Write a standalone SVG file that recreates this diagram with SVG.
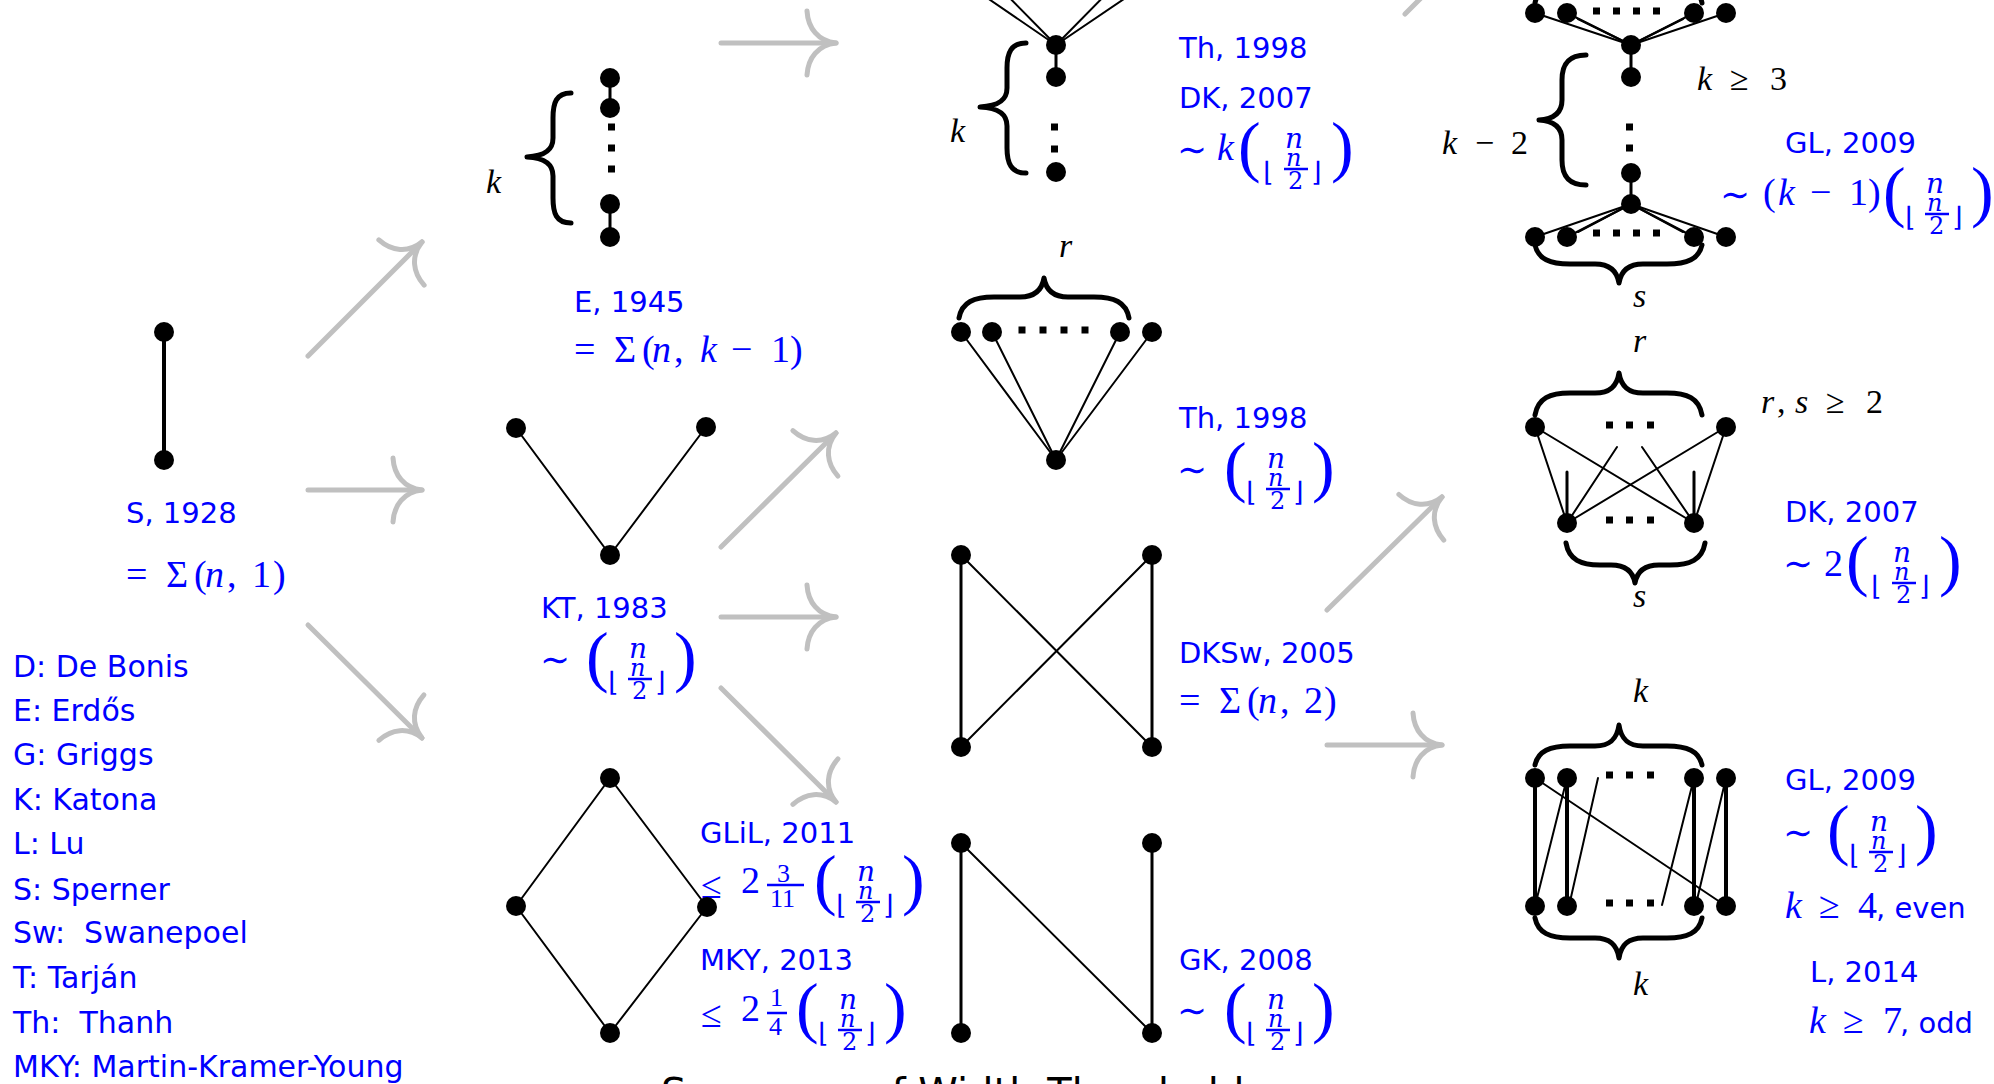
<svg xmlns="http://www.w3.org/2000/svg" width="1994" height="1084" viewBox="0 0 1994 1084">
<style>
.ed{stroke:#000;stroke-width:2;fill:none;stroke-linecap:round}
.ek{stroke:#000;stroke-width:3;fill:none;stroke-linecap:round}
.ew{stroke:#000;stroke-width:4;fill:none}
.nd{fill:#000}
.dt{fill:#000}
.br{stroke:#000;stroke-width:5;fill:none;stroke-linecap:round;stroke-linejoin:round}
.vb{stroke:#000;stroke-width:5;fill:none;stroke-linecap:round;stroke-linejoin:round}
.ar{stroke:#c0c0c0;stroke-width:5;fill:none;stroke-linecap:round;marker-end:url(#ah)}
.tx{font-family:"DejaVu Sans",sans-serif;font-size:29px;fill:#00f}
.lg{font-family:"DejaVu Sans",sans-serif;font-size:30px;fill:#00f;white-space:pre}
.mb{font-family:"Liberation Serif","DejaVu Serif",serif;font-size:38px;fill:#00f}
.mk{font-family:"Liberation Serif","DejaVu Serif",serif;font-size:34px;fill:#000}
.it{font-style:italic}
.sim{font-family:"DejaVu Serif",serif;font-size:36px;fill:#00f}
.bp{font-family:"Liberation Serif","DejaVu Serif",serif;font-size:68px;fill:#00f}
.bn{font-family:"DejaVu Serif",serif;fill:#00f}
.bt{font-size:28px}
.bs{font-size:24px}
.sf{font-size:26px}
.fl{font-family:"DejaVu Sans",sans-serif;font-size:27px;fill:#00f}
.fb{stroke:#00f;stroke-width:2.5}
.ttl{font-family:"DejaVu Sans",sans-serif;font-size:40px;fill:#000}
</style>
<defs>
<marker id="ah" markerUnits="userSpaceOnUse" markerWidth="80" markerHeight="80" viewBox="-40 -40 80 80" refX="0" refY="0" orient="auto" overflow="visible">
<path d="M -29 -32 C -28 -15, -18 -2, 0 0 M -29 32 C -28 15, -18 2, 0 0" fill="none" stroke="#c0c0c0" stroke-width="5" stroke-linecap="round"/>
</marker>
</defs>
<rect width="1994" height="1084" fill="#fff"/>

<g id="connectors">
<line class="ar" x1="308" y1="356" x2="422" y2="242"/>
<line class="ar" x1="308" y1="490" x2="422" y2="490"/>
<line class="ar" x1="308" y1="625" x2="422" y2="738"/>
<line class="ar" x1="721" y1="43" x2="836" y2="43"/>
<line class="ar" x1="721" y1="547" x2="836" y2="433"/>
<line class="ar" x1="721" y1="617" x2="836" y2="617"/>
<line class="ar" x1="721" y1="688" x2="836" y2="802"/>
<line class="ar" x1="1327" y1="610" x2="1442" y2="497"/>
<line class="ar" x1="1327" y1="745" x2="1442" y2="745"/>
<line class="ar" x1="1405" y1="14" x2="1519" y2="-100"/>
</g>

<g id="node-s1928">
<line class="ew" x1="164" y1="332" x2="164" y2="460"/>
<circle class="nd" cx="164" cy="332" r="10"/>
<circle class="nd" cx="164" cy="460" r="10"/>
<text class="tx" x="126" y="523">S, 1928</text>
<text class="mb" y="587"><tspan x="126">=</tspan><tspan x="166">Σ</tspan><tspan x="194">(</tspan><tspan x="205" class="it">n</tspan><tspan x="227">,</tspan><tspan x="252">1</tspan><tspan x="273">)</tspan></text>
</g>

<g id="node-e1945">
<path class="vb" d="M 571 93 C 556 93, 553 103, 553 118 L 553 138 C 553 150, 545 156, 527 157 C 545 158, 553 164, 553 176 L 553 198 C 553 213, 556 223, 571 223"/>
<text class="mk it" x="486" y="193">k</text>
<line class="ek" x1="610" y1="78" x2="610" y2="108"/>
<line class="ek" x1="610" y1="204" x2="610" y2="237"/>
<circle class="nd" cx="610" cy="78" r="10"/>
<circle class="nd" cx="610" cy="108" r="10"/>
<circle class="nd" cx="610" cy="204" r="10"/>
<circle class="nd" cx="610" cy="237" r="10"/>
<rect class="dt" x="608" y="123.5" width="7" height="7"/>
<rect class="dt" x="608" y="144.5" width="7" height="7"/>
<rect class="dt" x="608" y="165.5" width="7" height="7"/>
<text class="tx" x="574" y="312">E, 1945</text>
<text class="mb" y="362"><tspan x="574">=</tspan><tspan x="614">Σ</tspan><tspan x="642">(</tspan><tspan x="652" class="it">n</tspan><tspan x="674">,</tspan><tspan x="700" class="it">k</tspan><tspan x="731">−</tspan><tspan x="771">1</tspan><tspan x="790">)</tspan></text>
</g>

<g id="node-kt1983">
<line class="ed" x1="516" y1="428" x2="610" y2="555"/>
<line class="ed" x1="706" y1="427" x2="610" y2="555"/>
<circle class="nd" cx="516" cy="428" r="10"/>
<circle class="nd" cx="706" cy="427" r="10"/>
<circle class="nd" cx="610" cy="555" r="10"/>
<text class="tx" x="541" y="618">KT, 1983</text>
<text class="sim" x="540" y="672">∼</text>
<g transform="translate(589,662)">
<text class="bp" x="-3" y="17">(</text>
<text class="fl" x="19" y="29">⌊</text>
<text class="bn it bt" x="40" y="-4">n</text>
<text class="bn it bs" x="41" y="14">n</text>
<line class="fb" x1="39" y1="17" x2="63" y2="17"/>
<text class="bn bs" x="43" y="37">2</text>
<text class="fl" x="66" y="29">⌋</text>
<text class="bp" x="85" y="17">)</text>
</g>
</g>

<g id="node-glil2011-mky2013">
<text class="tx" x="700" y="843">GLiL, 2011</text>
<text class="mb" x="701" y="898">≤</text>
<text class="mb" x="741" y="893">2</text>
<text class="mb sf" x="777" y="882">3</text>
<line class="fb" x1="767" y1="885" x2="804" y2="885"/>
<text class="mb sf" x="770" y="907">11</text>
<g transform="translate(817,885)">
<text class="bp" x="-3" y="17">(</text>
<text class="fl" x="19" y="29">⌊</text>
<text class="bn it bt" x="40" y="-4">n</text>
<text class="bn it bs" x="41" y="14">n</text>
<line class="fb" x1="39" y1="17" x2="63" y2="17"/>
<text class="bn bs" x="43" y="37">2</text>
<text class="fl" x="66" y="29">⌋</text>
<text class="bp" x="85" y="17">)</text>
</g>
<text class="tx" x="700" y="970">MKY, 2013</text>
<text class="mb" x="701" y="1027">≤</text>
<text class="mb" x="741" y="1021">2</text>
<text class="mb sf" x="770" y="1006">1</text>
<line class="fb" x1="767" y1="1013" x2="787" y2="1013"/>
<text class="mb sf" x="769" y="1035">4</text>
<g transform="translate(799,1013)">
<text class="bp" x="-3" y="17">(</text>
<text class="fl" x="19" y="29">⌊</text>
<text class="bn it bt" x="40" y="-4">n</text>
<text class="bn it bs" x="41" y="14">n</text>
<line class="fb" x1="39" y1="17" x2="63" y2="17"/>
<text class="bn bs" x="43" y="37">2</text>
<text class="fl" x="66" y="29">⌋</text>
<text class="bp" x="85" y="17">)</text>
</g>
<line class="ed" x1="610" y1="778" x2="516" y2="906"/>
<line class="ed" x1="610" y1="778" x2="707" y2="907"/>
<line class="ed" x1="516" y1="906" x2="610" y2="1033"/>
<line class="ed" x1="707" y1="907" x2="610" y2="1033"/>
<circle class="nd" cx="610" cy="778" r="10"/>
<circle class="nd" cx="516" cy="906" r="10"/>
<circle class="nd" cx="707" cy="907" r="10"/>
<circle class="nd" cx="610" cy="1033" r="10"/>
</g>

<g id="node-th1998-dk2007">
<line class="ed" x1="1056" y1="45" x2="961" y2="-20"/>
<line class="ed" x1="1056" y1="45" x2="992" y2="-20"/>
<line class="ed" x1="1056" y1="45" x2="1120" y2="-20"/>
<line class="ed" x1="1056" y1="45" x2="1152" y2="-20"/>
<circle class="nd" cx="961" cy="-20" r="10"/>
<circle class="nd" cx="992" cy="-20" r="10"/>
<circle class="nd" cx="1120" cy="-20" r="10"/>
<circle class="nd" cx="1152" cy="-20" r="10"/>
<line class="ek" x1="1056" y1="45" x2="1056" y2="77"/>
<circle class="nd" cx="1056" cy="45" r="10"/>
<circle class="nd" cx="1056" cy="77" r="10"/>
<circle class="nd" cx="1056" cy="172" r="10"/>
<rect class="dt" x="1051" y="123.5" width="7" height="7"/>
<rect class="dt" x="1051" y="145.5" width="7" height="7"/>
<path class="vb" d="M 1026 43 C 1011 43, 1007 53, 1007 68 L 1007 88 C 1007 100, 999 106, 980 107 C 999 108, 1007 114, 1007 126 L 1007 148 C 1007 163, 1011 173, 1026 173"/>
<text class="mk it" x="950" y="142">k</text>
<text class="tx" x="1179" y="58">Th, 1998</text>
<text class="tx" x="1179" y="108">DK, 2007</text>
<text class="sim" x="1177" y="162">∼</text>
<text class="mb it" x="1217" y="160">k</text>
<g transform="translate(1241,152)">
<text class="bp" x="-3" y="17">(</text>
<text class="fl" x="22" y="29">⌊</text>
<text class="bn it bt" x="44" y="-4">n</text>
<text class="bn it bs" x="45" y="14">n</text>
<line class="fb" x1="43" y1="17" x2="67" y2="17"/>
<text class="bn bs" x="47" y="37">2</text>
<text class="fl" x="70" y="29">⌋</text>
<text class="bp" x="90" y="17">)</text>
</g>
</g>

<g id="node-th1998">
<text class="mk it" x="1059" y="257">r</text>
<path class="br" d="M 959 318 C 962 302, 974 297, 994 297 L 1020 297 C 1035 297, 1042 290, 1044 278 C 1046 290, 1053 297, 1068 297 L 1094 297 C 1114 297, 1126 302, 1129 318"/>
<line class="ed" x1="961" y1="332" x2="1056" y2="460"/>
<line class="ed" x1="992" y1="332" x2="1056" y2="460"/>
<line class="ed" x1="1120" y1="332" x2="1056" y2="460"/>
<line class="ed" x1="1152" y1="332" x2="1056" y2="460"/>
<circle class="nd" cx="961" cy="332" r="10"/>
<circle class="nd" cx="992" cy="332" r="10"/>
<circle class="nd" cx="1120" cy="332" r="10"/>
<circle class="nd" cx="1152" cy="332" r="10"/>
<circle class="nd" cx="1056" cy="460" r="10"/>
<rect class="dt" x="1018.5" y="326.5" width="7" height="7"/>
<rect class="dt" x="1039.5" y="326.5" width="7" height="7"/>
<rect class="dt" x="1060.5" y="326.5" width="7" height="7"/>
<rect class="dt" x="1081.5" y="326.5" width="7" height="7"/>
<text class="tx" x="1179" y="428">Th, 1998</text>
<text class="sim" x="1177" y="482">∼</text>
<g transform="translate(1227,472)">
<text class="bp" x="-3" y="17">(</text>
<text class="fl" x="19" y="29">⌊</text>
<text class="bn it bt" x="40" y="-4">n</text>
<text class="bn it bs" x="41" y="14">n</text>
<line class="fb" x1="39" y1="17" x2="63" y2="17"/>
<text class="bn bs" x="43" y="37">2</text>
<text class="fl" x="66" y="29">⌋</text>
<text class="bp" x="85" y="17">)</text>
</g>
</g>

<g id="node-dksw2005">
<line class="ek" x1="961" y1="555" x2="961" y2="747"/>
<line class="ek" x1="1152" y1="555" x2="1152" y2="747"/>
<line class="ed" x1="961" y1="555" x2="1152" y2="747"/>
<line class="ed" x1="1152" y1="555" x2="961" y2="747"/>
<circle class="nd" cx="961" cy="555" r="10"/>
<circle class="nd" cx="1152" cy="555" r="10"/>
<circle class="nd" cx="961" cy="747" r="10"/>
<circle class="nd" cx="1152" cy="747" r="10"/>
<text class="tx" x="1179" y="663">DKSw, 2005</text>
<text class="mb" y="713"><tspan x="1179">=</tspan><tspan x="1219">Σ</tspan><tspan x="1247">(</tspan><tspan x="1258" class="it">n</tspan><tspan x="1280">,</tspan><tspan x="1304">2</tspan><tspan x="1324">)</tspan></text>
</g>

<g id="node-gk2008">
<line class="ek" x1="961" y1="843" x2="961" y2="1033"/>
<line class="ek" x1="1152" y1="843" x2="1152" y2="1033"/>
<line class="ed" x1="961" y1="843" x2="1152" y2="1033"/>
<circle class="nd" cx="961" cy="843" r="10"/>
<circle class="nd" cx="1152" cy="843" r="10"/>
<circle class="nd" cx="961" cy="1033" r="10"/>
<circle class="nd" cx="1152" cy="1033" r="10"/>
<text class="tx" x="1179" y="970">GK, 2008</text>
<text class="sim" x="1177" y="1023">∼</text>
<g transform="translate(1227,1013)">
<text class="bp" x="-3" y="17">(</text>
<text class="fl" x="19" y="29">⌊</text>
<text class="bn it bt" x="40" y="-4">n</text>
<text class="bn it bs" x="41" y="14">n</text>
<line class="fb" x1="39" y1="17" x2="63" y2="17"/>
<text class="bn bs" x="43" y="37">2</text>
<text class="fl" x="66" y="29">⌋</text>
<text class="bp" x="85" y="17">)</text>
</g>
</g>

<g id="node-gl2009-a">
<path class="br" d="M 1535 3 C 1538 -12, 1550 -17, 1570 -17 L 1595 -17 C 1610 -17, 1617 -24, 1619 -37 C 1621 -24, 1628 -17, 1643 -17 L 1667 -17 C 1687 -17, 1699 -12, 1702 3"/>
<line class="ed" x1="1631" y1="45" x2="1535" y2="13"/>
<line class="ed" x1="1631" y1="45" x2="1567" y2="13"/>
<line class="ed" x1="1631" y1="45" x2="1578" y2="19"/>
<line class="ed" x1="1631" y1="45" x2="1694" y2="13"/>
<line class="ed" x1="1631" y1="45" x2="1683" y2="19"/>
<line class="ed" x1="1631" y1="45" x2="1726" y2="13"/>
<circle class="nd" cx="1535" cy="13" r="10"/>
<circle class="nd" cx="1567" cy="13" r="10"/>
<circle class="nd" cx="1694" cy="13" r="10"/>
<circle class="nd" cx="1726" cy="13" r="10"/>
<rect class="dt" x="1593" y="7.5" width="7" height="7"/>
<rect class="dt" x="1613" y="7.5" width="7" height="7"/>
<rect class="dt" x="1633" y="7.5" width="7" height="7"/>
<rect class="dt" x="1653" y="7.5" width="7" height="7"/>
<line class="ek" x1="1631" y1="45" x2="1631" y2="77"/>
<line class="ek" x1="1631" y1="173" x2="1631" y2="204"/>
<circle class="nd" cx="1631" cy="45" r="10"/>
<circle class="nd" cx="1631" cy="77" r="10"/>
<circle class="nd" cx="1631" cy="173" r="10"/>
<circle class="nd" cx="1631" cy="204" r="10"/>
<rect class="dt" x="1626" y="123.5" width="7" height="7"/>
<rect class="dt" x="1626" y="144.5" width="7" height="7"/>
<path class="vb" d="M 1586 55 C 1568 55, 1562 65, 1562 80 L 1562 100 C 1562 112, 1555 119, 1539 120 C 1555 121, 1562 128, 1562 140 L 1562 160 C 1562 175, 1568 185, 1586 185"/>
<text class="mk" y="154"><tspan x="1442" class="it">k</tspan><tspan x="1475">−</tspan><tspan x="1511">2</tspan></text>
<text class="mk" y="90"><tspan x="1697" class="it">k</tspan><tspan x="1730">≥</tspan><tspan x="1770">3</tspan></text>
<line class="ed" x1="1631" y1="204" x2="1535" y2="237"/>
<line class="ed" x1="1631" y1="204" x2="1567" y2="237"/>
<line class="ed" x1="1631" y1="204" x2="1578" y2="232"/>
<line class="ed" x1="1631" y1="204" x2="1694" y2="237"/>
<line class="ed" x1="1631" y1="204" x2="1683" y2="232"/>
<line class="ed" x1="1631" y1="204" x2="1726" y2="237"/>
<circle class="nd" cx="1535" cy="237" r="10"/>
<circle class="nd" cx="1567" cy="237" r="10"/>
<circle class="nd" cx="1694" cy="237" r="10"/>
<circle class="nd" cx="1726" cy="237" r="10"/>
<rect class="dt" x="1593" y="229.5" width="7" height="7"/>
<rect class="dt" x="1613" y="229.5" width="7" height="7"/>
<rect class="dt" x="1633" y="229.5" width="7" height="7"/>
<rect class="dt" x="1653" y="229.5" width="7" height="7"/>
<path class="br" d="M 1535 245 C 1538 259, 1550 264, 1570 264 L 1595 264 C 1610 264, 1617 271, 1619 283 C 1621 271, 1628 264, 1643 264 L 1667 264 C 1687 264, 1699 259, 1702 245"/>
<text class="mk it" x="1633" y="307">s</text>
<text class="tx" x="1785" y="153">GL, 2009</text>
<text class="sim" x="1720" y="207">∼</text>
<text class="mb" y="205"><tspan x="1763">(</tspan><tspan x="1778" class="it">k</tspan><tspan x="1810">−</tspan><tspan x="1849">1</tspan><tspan x="1868">)</tspan></text>
<g transform="translate(1886,197)">
<text class="bp" x="-3" y="17">(</text>
<text class="fl" x="19" y="29">⌊</text>
<text class="bn it bt" x="40" y="-4">n</text>
<text class="bn it bs" x="41" y="14">n</text>
<line class="fb" x1="39" y1="17" x2="63" y2="17"/>
<text class="bn bs" x="43" y="37">2</text>
<text class="fl" x="66" y="29">⌋</text>
<text class="bp" x="85" y="17">)</text>
</g>
</g>

<g id="node-dk2007">
<text class="mk it" x="1633" y="352">r</text>
<path class="br" d="M 1535 415 C 1538 398, 1550 393, 1570 393 L 1595 393 C 1610 393, 1617 386, 1619 373 C 1621 386, 1628 393, 1643 393 L 1667 393 C 1687 393, 1699 398, 1702 415"/>
<line class="ed" x1="1535" y1="427" x2="1567" y2="523"/>
<line class="ed" x1="1535" y1="427" x2="1694" y2="523"/>
<line class="ed" x1="1726" y1="427" x2="1567" y2="523"/>
<line class="ed" x1="1726" y1="427" x2="1694" y2="523"/>
<line class="ed" x1="1567" y1="523" x2="1617" y2="447"/>
<line class="ed" x1="1694" y1="523" x2="1642" y2="447"/>
<line class="ek" x1="1567" y1="472" x2="1567" y2="523"/>
<line class="ek" x1="1694" y1="472" x2="1694" y2="523"/>
<circle class="nd" cx="1535" cy="427" r="10"/>
<circle class="nd" cx="1726" cy="427" r="10"/>
<circle class="nd" cx="1567" cy="523" r="10"/>
<circle class="nd" cx="1694" cy="523" r="10"/>
<rect class="dt" x="1606" y="421.5" width="7" height="7"/>
<rect class="dt" x="1626" y="421.5" width="7" height="7"/>
<rect class="dt" x="1647" y="421.5" width="7" height="7"/>
<rect class="dt" x="1606" y="516.5" width="7" height="7"/>
<rect class="dt" x="1626" y="516.5" width="7" height="7"/>
<rect class="dt" x="1647" y="516.5" width="7" height="7"/>
<path class="br" d="M 1566 543 C 1569 560, 1581 565, 1600 565 L 1611 565 C 1626 565, 1633 572, 1635 583 C 1637 572, 1644 565, 1659 565 L 1670 565 C 1690 565, 1702 560, 1705 543"/>
<text class="mk it" x="1633" y="607">s</text>
<text class="mk" y="413"><tspan x="1761" class="it">r</tspan><tspan x="1777">,</tspan><tspan x="1795" class="it">s</tspan><tspan x="1826">≥</tspan><tspan x="1866">2</tspan></text>
<text class="tx" x="1785" y="522">DK, 2007</text>
<text class="sim" x="1783" y="576">∼</text>
<text class="mb" x="1824" y="576">2</text>
<g transform="translate(1849,566)">
<text class="bp" x="-3" y="17">(</text>
<text class="fl" x="22" y="29">⌊</text>
<text class="bn it bt" x="44" y="-4">n</text>
<text class="bn it bs" x="45" y="14">n</text>
<line class="fb" x1="43" y1="17" x2="67" y2="17"/>
<text class="bn bs" x="47" y="37">2</text>
<text class="fl" x="70" y="29">⌋</text>
<text class="bp" x="90" y="17">)</text>
</g>
</g>

<g id="node-gl2009-b">
<text class="mk it" x="1633" y="702">k</text>
<path class="br" d="M 1535 765 C 1538 751, 1550 746, 1570 746 L 1595 746 C 1610 746, 1617 739, 1619 725 C 1621 739, 1628 746, 1643 746 L 1667 746 C 1687 746, 1699 751, 1702 765"/>
<line class="ew" x1="1535" y1="778" x2="1535" y2="906"/>
<line class="ew" x1="1567" y1="778" x2="1567" y2="906"/>
<line class="ew" x1="1694" y1="778" x2="1694" y2="906"/>
<line class="ew" x1="1726" y1="778" x2="1726" y2="906"/>
<line class="ed" x1="1567" y1="778" x2="1535" y2="906"/>
<line class="ed" x1="1598" y1="778" x2="1569" y2="906"/>
<line class="ed" x1="1694" y1="778" x2="1662" y2="905"/>
<line class="ed" x1="1726" y1="778" x2="1696" y2="904"/>
<line class="ed" x1="1535" y1="778" x2="1726" y2="906"/>
<circle class="nd" cx="1535" cy="778" r="10"/>
<circle class="nd" cx="1567" cy="778" r="10"/>
<circle class="nd" cx="1694" cy="778" r="10"/>
<circle class="nd" cx="1726" cy="778" r="10"/>
<circle class="nd" cx="1535" cy="906" r="10"/>
<circle class="nd" cx="1567" cy="906" r="10"/>
<circle class="nd" cx="1694" cy="906" r="10"/>
<circle class="nd" cx="1726" cy="906" r="10"/>
<rect class="dt" x="1606" y="771.5" width="7" height="7"/>
<rect class="dt" x="1626" y="771.5" width="7" height="7"/>
<rect class="dt" x="1647" y="771.5" width="7" height="7"/>
<rect class="dt" x="1606" y="899.5" width="7" height="7"/>
<rect class="dt" x="1626" y="899.5" width="7" height="7"/>
<rect class="dt" x="1647" y="899.5" width="7" height="7"/>
<path class="br" d="M 1535 918 C 1538 933, 1550 938, 1570 938 L 1595 938 C 1610 938, 1617 945, 1619 958 C 1621 945, 1628 938, 1643 938 L 1667 938 C 1687 938, 1699 933, 1702 918"/>
<text class="mk it" x="1633" y="995">k</text>
<text class="tx" x="1785" y="790">GL, 2009</text>
<text class="sim" x="1783" y="845">∼</text>
<g transform="translate(1830,835)">
<text class="bp" x="-3" y="17">(</text>
<text class="fl" x="19" y="29">⌊</text>
<text class="bn it bt" x="40" y="-4">n</text>
<text class="bn it bs" x="41" y="14">n</text>
<line class="fb" x1="39" y1="17" x2="63" y2="17"/>
<text class="bn bs" x="43" y="37">2</text>
<text class="fl" x="66" y="29">⌋</text>
<text class="bp" x="85" y="17">)</text>
</g>
<text class="mb" y="918"><tspan x="1785" class="it">k</tspan><tspan x="1819">≥</tspan><tspan x="1858">4</tspan></text>
<text class="tx" x="1876" y="918">, even</text>
<text class="tx" x="1810" y="982">L, 2014</text>
<text class="mb" y="1033"><tspan x="1809" class="it">k</tspan><tspan x="1843">≥</tspan><tspan x="1883">7</tspan></text>
<text class="tx" x="1900" y="1033">, odd</text>
</g>

<g id="legend">
<text class="lg" x="13" y="677">D: De Bonis</text>
<text class="lg" x="13" y="721">E: Erdős</text>
<text class="lg" x="13" y="765">G: Griggs</text>
<text class="lg" x="13" y="810">K: Katona</text>
<text class="lg" x="13" y="854">L: Lu</text>
<text class="lg" x="13" y="900">S: Sperner</text>
<text class="lg" x="13" y="943" xml:space="preserve">Sw:  Swanepoel</text>
<text class="lg" x="13" y="988">T: Tarján</text>
<text class="lg" x="13" y="1033" xml:space="preserve">Th:  Thanh</text>
<text class="lg" x="13" y="1077">MKY: Martin-Kramer-Young</text>
</g>

<g id="title">
<text class="ttl" x="661" y="1107">Summary of Width Thresholds</text>
</g>
</svg>
